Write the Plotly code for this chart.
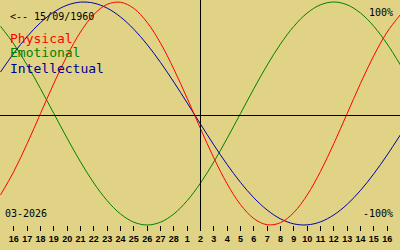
import plotly.graph_objects as go

# day index 0 = 16 Feb 2026, index 14 = 2 Mar 2026 (today line)
day_index = [-1, 0, 1, 2, 3, 4, 5, 6, 7, 8, 9, 10, 11, 12, 13, 14, 15,
             16, 17, 18, 19, 20, 21, 22, 23, 24, 25, 26, 27, 28, 29]
tick_labels = ["16", "17", "18", "19", "20", "21", "22", "23", "24", "25",
               "26", "27", "28", "1", "2", "3", "4", "5", "6", "7", "8",
               "9", "10", "11", "12", "13", "14", "15", "16"]
today_index = 14

physical = [-0.7308, -0.5196, -0.2698, 0.0, 0.2698, 0.5196, 0.7308, 0.8879,
            0.9791, 0.9977, 0.9423, 0.8170, 0.6311, 0.3984, 0.1362, -0.1362,
            -0.3984, -0.6311, -0.8170, -0.9423, -0.9977, -0.9791, -0.8879,
            -0.7308, -0.5196, -0.2698, 0.0, 0.2698, 0.5196, 0.7308, 0.8879]
emotional = [0.7818, 0.6235, 0.4339, 0.2225, 0.0, -0.2225, -0.4339, -0.6235,
             -0.7818, -0.9010, -0.9749, -1.0, -0.9749, -0.9010, -0.7818,
             -0.6235, -0.4339, -0.2225, 0.0, 0.2225, 0.4339, 0.6235, 0.7818,
             0.9010, 0.9749, 1.0, 0.9749, 0.9010, 0.7818, 0.6235, 0.4339]
intellectual = [0.3717, 0.5406, 0.6901, 0.8146, 0.9096, 0.9718, 0.9989, 0.9898,
                0.9450, 0.8660, 0.7557, 0.6182, 0.4582, 0.2817, 0.0951, -0.0951,
                -0.2817, -0.4582, -0.6182, -0.7557, -0.8660, -0.9450, -0.9898,
                -0.9989, -0.9718, -0.9096, -0.8146, -0.6901, -0.5406, -0.3717,
                -0.1893]

BG = "#E1D385"
RED = "#FF0000"
GREEN = "#008000"
BLUE = "#0000A8"
W, H = 400, 250

fig = go.Figure()
for vals, col in [(emotional, GREEN), (intellectual, BLUE), (physical, RED)]:
    fig.add_trace(go.Scatter(x=day_index, y=vals, mode="lines",
                             line=dict(color=col, width=1, shape="spline"),
                             hoverinfo="skip", showlegend=False))

# horizontal axis line and today line
fig.add_shape(type="line", xref="paper", yref="paper", x0=0, x1=1,
              y0=1 - 115.5 / H, y1=1 - 115.5 / H,
              line=dict(color="black", width=1))
fig.add_shape(type="line", xref="x", yref="paper", x0=today_index,
              x1=today_index, y0=1, y1=1 - 231 / H,
              line=dict(color="black", width=1))

def px(x, y):
    return x / W, 1 - y / H

mono = "DejaVu Sans Mono"
texts = [
    ("<-- 15/09/1960", 8, 16.5, "black", 10, "left"),
    ("Physical", 8, 38, RED, 13, "left"),
    ("Emotional", 8, 53, GREEN, 13, "left"),
    ("Intellectual", 8, 68, "#000090", 13, "left"),
    ("100%", 395, 12, "black", 10, "right"),
    ("-100%", 395, 213, "black", 10, "right"),
    ("03-2026", 3, 213, "black", 10, "left"),
]
for t, x, y, c, s, anc in texts:
    xp, yp = px(x, y)
    fig.add_annotation(text=t, x=xp, y=yp, xref="paper", yref="paper",
                       xanchor=anc, yanchor="middle", showarrow=False,
                       font=dict(family=mono, size=s, color=c))

top_px, bot_px = 2.0, 225.0
unit = (bot_px - top_px) / 2.0
y_hi = 1 + top_px / unit
y_lo = -1 - (H - bot_px) / unit
day_px = W / 30.0
shift = 0.5 / day_px

fig.update_layout(
    width=W, height=H, margin=dict(l=0, r=0, t=0, b=0),
    paper_bgcolor=BG, plot_bgcolor=BG,
    xaxis=dict(range=[-1 - shift, 29 - shift], showgrid=False, zeroline=False,
               showline=False,
               tickmode="array", tickvals=list(range(0, 29)),
               ticktext=tick_labels, ticks="outside", ticklen=5, tickwidth=1,
               tickcolor="black", anchor="free", position=(H - bot_px) / H,
               tickfont=dict(family="Liberation Sans", size=9, color="black",
                             weight="bold"),
               ticklabelstandoff=0),
    yaxis=dict(range=[y_lo, y_hi], showgrid=False, zeroline=False,
               showline=False, showticklabels=False, ticks=""),
)

fig.write_html("out.html")
